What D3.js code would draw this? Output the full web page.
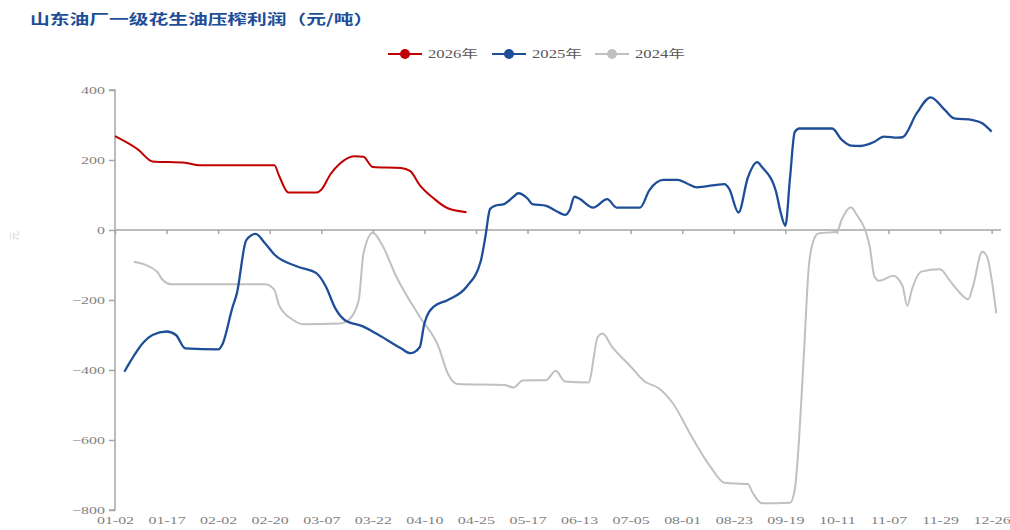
<!DOCTYPE html>
<html>
<head>
<meta charset="utf-8">
<script src="https://cdn.jsdelivr.net/npm/d3@7"></script>
<style>
  body { margin: 0; background: #fff; }
</style>
</head>
<body>
<div id="chart"></div>
<script>
// x axis: trading-day index, a label every 11 days
const xLabels = ["01-02", "01-17", "02-02", "02-20", "03-07", "03-22", "04-10", "04-25", "05-17",
    "06-13", "07-05", "08-01", "08-23", "09-19", "10-11", "11-07", "11-29", "12-26"];
const labelStep = 11;
const yTicks = [-800, -600, -400, -200, 0, 200, 400];

const seriesNames = ["2026年", "2025年", "2024年"];
const seriesColors = ["#c00000", "#1f4e99", "#c0c0c0"];

// [day index, profit]
const data2026 = [[0, 268], [5, 229], [8, 196], [15, 192], [18, 185], [34, 185], [35, 155], [37, 107],
    [43, 107], [44, 115], [46, 160], [48, 190], [51, 211], [53, 209], [55, 180], [61, 177], [63, 168],
    [65, 128], [68, 90], [71, 62], [75, 51]];

const data2025 = [[2, -405], [3, -382], [4, -360], [6, -322], [8, -300], [11, -290], [13, -300],
    [15, -338], [22, -341], [23, -324], [25, -224], [26, -181], [28, -29], [30, -11], [32, -38],
    [34, -70], [39, -105], [43, -124], [45, -162], [47, -224], [49, -257], [53, -276], [56, -298],
    [61, -338], [63, -352], [65, -335], [66, -267], [68, -219], [71, -200], [75, -162], [78, -90],
    [79, -20], [80, 60], [81, 69], [83, 74], [85, 95], [86, 105], [88, 90], [89, 74], [92, 69],
    [94, 55], [96, 43], [97, 57], [98, 95], [99, 90], [102, 64], [105, 88], [107, 64], [112, 64],
    [114, 114], [117, 143], [120, 143], [122, 133], [124, 122], [130, 131], [131, 118], [133, 50],
    [135, 150], [137, 194], [138, 180], [141, 110], [142, 50], [143, 12], [144, 150], [145, 280],
    [146, 290], [153, 290], [155, 258], [157, 241], [159, 240], [162, 252], [164, 267], [167, 264],
    [168, 265], [171, 333], [174, 379], [177, 343], [179, 319], [183, 314], [185, 305], [187, 281]];

const data2024 = [[4, -91], [9, -119], [10, -140], [12, -155], [32, -155], [34, -171], [35, -215],
    [38, -257], [40, -269], [48, -267], [50, -255], [52, -200], [53, -67], [55, -8], [57, -43],
    [60, -133], [65, -248], [69, -333], [71, -410], [73, -440], [83, -443], [85, -450], [87, -430],
    [92, -429], [94, -402], [96, -433], [101, -436], [103, -305], [104, -296], [106, -333],
    [110, -390], [113, -433], [116, -452], [119, -495], [123, -590], [127, -676], [130, -722],
    [135, -726], [136, -750], [138, -781], [144, -779], [145, -743], [146, -581], [147, -343],
    [148, -105], [149, -30], [150, -10], [154, -5], [155, 29], [157, 65], [158, 48], [161, -48],
    [162, -133], [163, -145], [166, -131], [168, -160], [169, -217], [170, -170], [172, -119],
    [176, -112], [178, -143], [180, -176], [182, -198], [183, -162], [185, -62], [186, -76],
    [188, -238]];

const width = 1010;
const height = 530;
const stretch = 1.45;   // the reference text is drawn wide
const serif = "'Liberation Serif', 'Noto Sans CJK SC', serif";

const svg = d3.select('#chart')
    .append('svg')
    .attr('width', width)
    .attr('height', height);

const x = d3.scaleLinear().domain([0, 189]).range([115, 1001]);
const y = d3.scaleLinear().domain([-800, 400]).range([510, 90]);

// title
svg.append('text')
    .attr('transform', `translate(30,24) scale(1.41,1)`)
    .attr('font-family', "'Noto Sans CJK SC', sans-serif")
    .attr('font-weight', 'bold')
    .attr('font-size', 14)
    .attr('fill', '#1f4e99')
    .text('山东油厂一级花生油压榨利润（元/吨）');

// legend
const legendX = [388, 492, 595];
seriesNames.forEach((name, i) => {
    const g = svg.append('g').attr('transform', `translate(${legendX[i]},54)`);
    g.append('line').attr('x1', 0).attr('x2', 34).attr('y1', 0).attr('y2', 0)
        .attr('stroke', seriesColors[i]).attr('stroke-width', 2);
    g.append('circle').attr('cx', 17).attr('cy', 0).attr('r', 5).attr('fill', seriesColors[i]);
    g.append('text')
        .attr('transform', `translate(40,4) scale(${stretch},1)`)
        .attr('font-family', serif)
        .attr('font-size', 11.5)
        .attr('fill', '#595959')
        .text(name);
});

// y axis title
svg.append('text')
    .attr('transform', 'translate(18,236) rotate(-90)')
    .attr('text-anchor', 'middle')
    .attr('font-family', "'Noto Sans CJK SC', sans-serif")
    .attr('font-size', 10)
    .attr('fill', '#d9d9d9')
    .text('元');

// y axis
const yAxis = svg.append('g')
    .attr('transform', `translate(${x(0)},0)`)
    .call(d3.axisLeft(y).tickValues(yTicks).tickSize(6).tickPadding(3));
yAxis.selectAll('path, line').attr('stroke', '#a6a6a6').attr('stroke-width', 1.5);
yAxis.select('.domain').attr('d', `M-6,${y(-800)}H0V${y(400)}H-6`);
yAxis.selectAll('text')
    .attr('font-family', serif)
    .attr('font-size', 11)
    .attr('fill', '#7f7f7f')
    .attr('transform', `scale(${stretch},1)`);
yAxis.selectAll('.tick text').attr('x', -7);

// zero line with ticks
const tickIdx = xLabels.map((d, i) => i * labelStep);
const zeroAxis = svg.append('g')
    .attr('transform', `translate(0,${y(0)})`)
    .call(d3.axisBottom(x).tickValues(tickIdx).tickSize(4).tickFormat(''));
zeroAxis.selectAll('path, line').attr('stroke', '#a6a6a6').attr('stroke-width', 1.5);
zeroAxis.select('.domain').attr('d', `M${x(0)},0H${x(189)}`);

// bottom labels
const labelAxis = svg.append('g')
    .attr('transform', `translate(0,${y(-800)})`)
    .call(d3.axisBottom(x).tickValues(tickIdx).tickSize(0).tickPadding(6)
        .tickFormat((d, i) => xLabels[i]));
labelAxis.select('.domain').remove();
labelAxis.selectAll('text')
    .attr('font-family', serif)
    .attr('font-size', 11)
    .attr('fill', '#7f7f7f')
    .attr('transform', `scale(${stretch},1)`);

// lines
const line = d3.line()
    .x(d => x(d[0]))
    .y(d => y(d[1]))
    .curve(d3.curveMonotoneX);

const allSeries = [data2024, data2025, data2026];
const order = [2, 1, 0];
allSeries.forEach((s, k) => {
    svg.append('path')
        .datum(s)
        .attr('fill', 'none')
        .attr('stroke', seriesColors[order[k]])
        .attr('stroke-width', order[k] === 1 ? 2.3 : 2)
        .attr('stroke-linejoin', 'round')
        .attr('d', line);
});
</script>
</body>
</html>
